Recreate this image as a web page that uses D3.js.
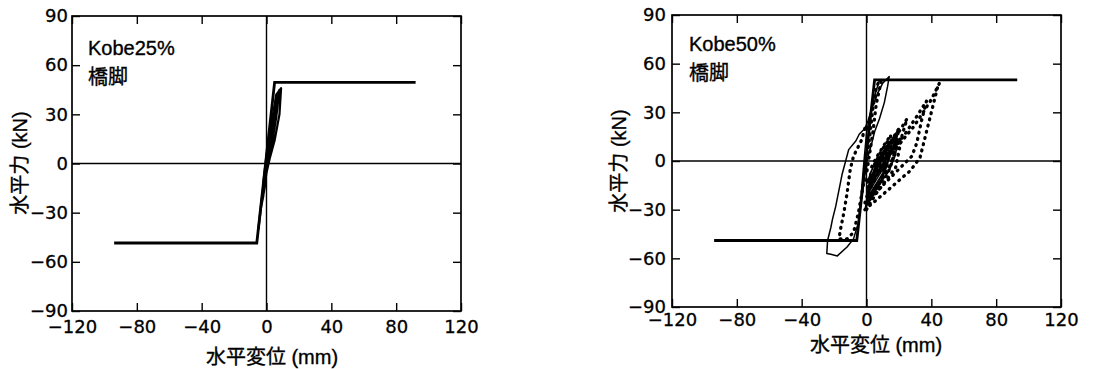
<!DOCTYPE html>
<head>
<meta charset="utf-8">
<style>
body { margin: 0; background: #fff; }
svg { display: block; }
text { font-family: "Liberation Sans", "Noto Sans CJK JP", sans-serif; fill: #000; }
.tick line { stroke: #000; stroke-width: 1.4; }
.tick text { font-family: "DejaVu Sans", sans-serif; font-size: 18px; stroke: #000; stroke-width: 0.3; }
.lab { stroke: #000; stroke-width: 0.35; }
</style>
</head>
<body>
<script src="https://cdnjs.cloudflare.com/ajax/libs/d3/7.8.5/d3.min.js"></script>
<script>

// tick values (mm, kN)
var xTicks = [-120, -80, -40, 0, 40, 80, 120];
var yTicks = [-90, -60, -30, 0, 30, 60, 90];

// Kobe25% : skeleton + small loops near origin  [disp mm, force kN]
var skeleton25 = [[-94, -48.5], [-6, -48.5], [5, 49.5], [92, 49.5]];
var loops25 = [[0, 0], [2, 18], [0, 5], [-2, -12], [0, -4], [3, 27], [1, 12], [-3, -25], [-1, -14],
  [4, 30], [6, 42], [9, 46], [8, 30], [5, 14], [2, 3], [-1, -10], [-4, -30], [-2, -20], [0, -2],
  [7, 40], [8, 45], [6, 28], [3, 10], [0, 0], [-5, -40], [-3, -22], [1, 8], [3, 20], [0, 0]];

// Kobe50% : skeleton, solid loops, dotted loops
var skeleton50 = [[-94, -49], [-6, -49], [5, 50], [93, 50]];
var solid50 = [[0, 0], [-3, -22], [-5, -38], [-8, -48], [-12, -53], [-18, -58.5], [-22, -57.5], [-24.5, -57],
  [-24, -49], [-22, -41], [-21, -36], [-19, -28], [-15, -8], [-11, 7], [-6.5, 12.5], [-4.5, 16.5], [-1, 20],
  [1, 25], [4, 34], [7, 42], [10, 48], [13, 51], [14, 52], [13, 46], [11, 36], [8, 26], [5, 18], [3, 10], [1, 3], [0, 0]];
var solid50b = [[8, 50], [5, 40], [2, 28], [0, 17], [-2, -5], [-4, -30]];
var solid50c = [[0, -28], [5, -18], [10, -10], [13, -2], [15, 8], [17, 14], [13, 8], [9, 2], [5, -6], [2, -16],
  [1, -22], [6, -14], [11, -6], [14, 2], [18, 12], [20, 20], [16, 14], [11, 6], [6, -2], [2, -12],
  [0, -24], [8, -14], [14, -6], [18, 4], [19, 12], [14, 6], [8, -2], [3, -12], [-1, -30], [4, -18],
  [10, -8], [12, 2], [13, 10], [9, 4], [4, -4], [0, -14], [6, -6], [10, 4], [7, 2], [2, -8],
  [1, -20], [7, -10], [12, -2], [16, 6], [18, 16], [14, 10], [9, 0], [4, -10], [0, -26]];
var dotted50 = [
  [[-1, 20], [-3, 13], [-8, 3], [-10, -5], [-12, -20], [-14, -32], [-16, -42], [-17, -48], [-12, -48],
   [-8, -44], [-5, -32], [-2, -15], [0, 0], [2, 15], [4, 33], [6, 45], [8, 50]],
  [[9, 49], [6, 35], [4, 18], [2, 5], [0, -8]],
  [[-1, -30], [5, -25], [12, -19], [20, -12], [27, -6], [33, 2], [36, 14], [40, 30], [44, 46], [45, 48],
   [40, 38], [35, 30], [29, 21], [20, 10], [12, 0], [6, -9], [2, -16], [-1, -26]],
  [[0, -26], [10, -15], [20, -5], [28, 3], [31, 11], [34, 25], [37, 37], [32, 29], [24, 17], [15, 5], [7, -7], [1, -20]],
  [[0, -30], [6, -20], [12, -12], [18, -4], [20, 6], [22, 16], [25, 26], [20, 18], [15, 10], [10, 2], [5, -8], [1, -20]],
  [[1, -26], [7, -16], [13, -8], [16, 0], [18, 10], [20, 20], [15, 12], [10, 4], [6, -4], [2, -14]],
  [[2, -24], [8, -14], [12, -6], [14, 4], [16, 12], [12, 6], [8, 0], [4, -8], [1, -18]],
  [[3, -20], [9, -12], [14, -4], [17, 4], [21, 14], [17, 9], [12, 2], [7, -6], [3, -14]],
  [[0, -12], [6, -6], [12, 2], [14, 10], [15, 16], [11, 10], [6, 2], [2, -6]],
  [[1, -16], [5, -10], [10, -4], [12, 6], [13, 12], [9, 6], [5, -2]]
];

var width = 1096, height = 369;

var svg = d3.select("body").append("svg")
    .attr("width", width)
    .attr("height", height);

var panels = [
  {left: 72, right: 461, top: 16, bottom: 311, xPad: 9, yPad: 4, title: "Kobe25%",
   titleY: 55, subY: 84, titleX: 88, yLabX: 20, yLabY: 163, xLabX: 272, xLabY: 364,
   skeleton: skeleton25, solid: [loops25], dotted: [], loopWidth: 2.2},
  {left: 672, right: 1061, top: 15, bottom: 307, xPad: 6, yPad: 6, title: "Kobe50%",
   titleY: 51, subY: 80, titleX: 689, yLabX: 619, yLabY: 161, xLabX: 876, xLabY: 352,
   skeleton: skeleton50, solid: [solid50, solid50b, solid50c], dotted: dotted50, loopWidth: 1.5}
];

panels.forEach(drawPanel);

function drawPanel(p) {
  var x = d3.scaleLinear().domain([-120, 120]).range([p.left, p.right]);
  var y = d3.scaleLinear().domain([-90, 90]).range([p.bottom, p.top]);
  var g = svg.append("g");

  var line = d3.line().x(function(d) { return x(d[0]); }).y(function(d) { return y(d[1]); });

  // zero lines
  g.append("line").attr("x1", x(0)).attr("x2", x(0)).attr("y1", p.top).attr("y2", p.bottom)
    .attr("stroke", "#000").attr("stroke-width", 1.4);
  g.append("line").attr("x1", p.left).attr("x2", p.right).attr("y1", y(0)).attr("y2", y(0))
    .attr("stroke", "#000").attr("stroke-width", 1.4);

  // axes, ticks inward
  g.append("g").attr("transform", "translate(0," + p.bottom + ")")
    .call(d3.axisBottom(x).tickValues(xTicks).tickSize(-8).tickPadding(p.xPad));
  g.append("g").attr("transform", "translate(0," + p.top + ")")
    .call(d3.axisTop(x).tickValues(xTicks).tickSize(-8).tickFormat(""));
  g.append("g").attr("transform", "translate(" + p.left + ",0)")
    .call(d3.axisLeft(y).tickValues(yTicks).tickSize(-8).tickPadding(p.yPad));
  g.append("g").attr("transform", "translate(" + p.right + ",0)")
    .call(d3.axisRight(y).tickValues(yTicks).tickSize(-8).tickFormat(""));
  g.selectAll(".domain").remove();

  g.append("rect").attr("x", p.left).attr("y", p.top)
    .attr("width", p.right - p.left).attr("height", p.bottom - p.top)
    .attr("fill", "none").attr("stroke", "#000").attr("stroke-width", 1.7);

  // curves
  p.dotted.forEach(function(d) {
    g.append("path").attr("d", line(d)).attr("fill", "none").attr("stroke", "#000")
      .attr("stroke-width", 3.3).attr("stroke-linecap", "round").attr("stroke-linejoin", "round")
      .attr("stroke-dasharray", "0.8 5.6");
  });
  p.solid.forEach(function(d) {
    g.append("path").attr("d", line(d)).attr("fill", "none").attr("stroke", "#000")
      .attr("stroke-width", p.loopWidth).attr("stroke-linejoin", "round");
  });
  g.append("path").attr("d", line(p.skeleton)).attr("fill", "none").attr("stroke", "#000")
    .attr("stroke-width", 2.8).attr("stroke-linejoin", "miter");

  // annotations
  g.append("text").attr("class", "lab").attr("x", p.titleX).attr("y", p.titleY).attr("font-size", 20).text(p.title);
  g.append("text").attr("class", "lab").attr("x", p.titleX).attr("y", p.subY).attr("font-size", 20).text("橋脚");

  g.append("text").attr("class", "lab")
    .attr("transform", "translate(" + p.yLabX + "," + p.yLabY + ") rotate(-90)")
    .attr("text-anchor", "middle").attr("dy", "0.35em").attr("font-size", 20).text("水平力 (kN)");
  g.append("text").attr("class", "lab").attr("x", p.xLabX).attr("y", p.xLabY)
    .attr("text-anchor", "middle").attr("font-size", 20).text("水平変位 (mm)");
}

</script>
</body>
</html>
